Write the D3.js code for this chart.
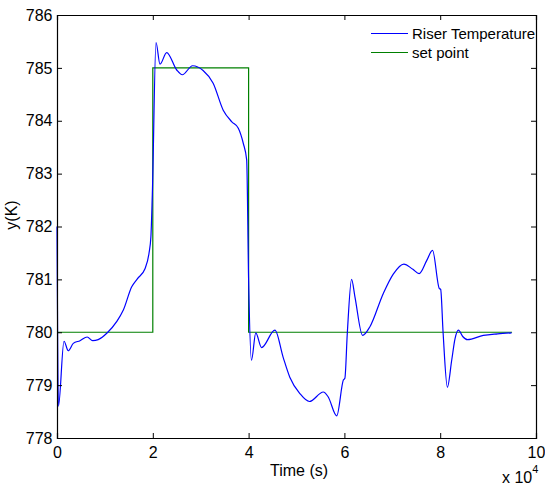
<!DOCTYPE html>
<html><head><meta charset="utf-8">
<script src="https://cdn.jsdelivr.net/npm/d3@7/dist/d3.min.js"></script>
<style>body{margin:0;background:#fff}svg{display:block}text{font-family:"Liberation Sans",Arial,sans-serif;fill:#000}</style>
</head><body><svg id="c" width="545" height="491"></svg>
<script>
// time in units of 1e4 s
const riserT = [0,0.03,0.146,0.236,0.34,0.48,0.63,0.745,0.86,1.05,1.245,1.385,1.56,1.677,1.837,1.92,1.96,1.99,2.067,2.15,2.29,2.5,2.616,2.83,3.05,3.26,3.47,3.65,3.785,3.89,3.96,4.0,4.06,4.15,4.27,4.55,4.72,4.86,5.07,5.27,5.56,5.66,5.84,5.98,6.01,6.06,6.15,6.22,6.38,6.53,6.81,7.02,7.24,7.43,7.56,7.72,7.84,7.98,8.01,8.06,8.15,8.24,8.31,8.38,8.47,8.57,8.9,9.2,9.49];
const riserV = [782.0,778.6,779.83,779.65,779.79,779.84,779.91,779.84,779.86,779.99,780.2,780.42,780.86,781.01,781.2,781.49,781.8,782.6,785.48,785.07,785.29,784.96,784.87,785.04,784.95,784.71,784.2,783.98,783.86,783.57,783.26,781.0,779.47,779.99,779.71,780.04,779.53,779.15,778.84,778.69,778.87,778.78,778.42,779.1,779.13,779.97,781.0,780.67,779.94,780.1,780.73,781.1,781.29,781.19,781.11,781.36,781.55,780.83,780.81,780.0,778.96,779.47,779.88,780.04,779.92,779.86,779.94,779.97,779.99];
const setT = [0,2,2,4,4,9.5];
const setV = [780,780,785,785,780,780];
const xTicks = [0,2,4,6,8,10];
const yTicks = [778,779,780,781,782,783,784,785,786];
const legendLabels = ["Riser Temperature","set point"];

const svg = d3.select("#c");
const L=57,R=536,T=15,B=438;
const x = d3.scaleLinear().domain([0,10]).range([L,R]);
const y = d3.scaleLinear().domain([778,786]).range([B,T]);

const g = svg.append("g");
const line = d3.line().x(d=>x(d[0])).y(d=>y(d[1]));
const riser = riserT.map((t,i)=>[t,riserV[i]]);
const setp = setT.map((t,i)=>[t,setV[i]]);

g.append("path").datum(setp).attr("d",line).attr("fill","none").attr("stroke","#008000").attr("stroke-width",1.2);
g.append("path").datum(riser).attr("d",line.curve(d3.curveMonotoneX)).attr("fill","none").attr("stroke","#0000ff").attr("stroke-width",1.2);

// axes
const fs = "16px";
const xb = svg.append("g").attr("transform",`translate(0,${B})`).call(d3.axisBottom(x).tickValues(xTicks).tickSize(-5).tickPadding(8.5).tickFormat(d3.format("d")));
const xt = svg.append("g").attr("transform",`translate(0,${T})`).call(d3.axisTop(x).tickValues(xTicks).tickSize(-5).tickFormat(""));
const yl = svg.append("g").attr("transform",`translate(${L},0)`).call(d3.axisLeft(y).tickValues(yTicks).tickSize(-5).tickPadding(4.5).tickFormat(d3.format("d")));
const yr = svg.append("g").attr("transform",`translate(${R},0)`).call(d3.axisRight(y).tickValues(yTicks).tickSize(-5).tickFormat(""));
[xb,xt,yl,yr].forEach(a=>{
  a.select(".domain").attr("stroke","#000").attr("stroke-width",1.2);
  a.selectAll(".tick line").attr("stroke","#000");
  a.selectAll("text").style("font-size",fs).attr("font-family",null);
});

svg.append("text").attr("x",299).attr("y",476).attr("text-anchor","middle").style("font-size","16px").text("Time (s)");
svg.append("text").attr("transform","translate(17,215) rotate(-90)").attr("text-anchor","middle").style("font-size","16px").text("y(K)");
const ex = svg.append("text").attr("x",502).attr("y",483).style("font-size","16px");
ex.append("tspan").text("x 10");
ex.append("tspan").attr("dy",-10).style("font-size","11px").text("4");

// legend
const lg = svg.append("g");
const cols = ["#0000ff","#008000"];
legendLabels.forEach((s,i)=>{
  const yy = 33.5 + i*19;
  lg.append("line").attr("x1",371).attr("x2",408).attr("y1",yy).attr("y2",yy).attr("stroke",cols[i]).attr("stroke-width",1.2);
  lg.append("text").attr("x",412).attr("y",yy+5.5).style("font-size","15px").text(s);
});
</script></body></html>
